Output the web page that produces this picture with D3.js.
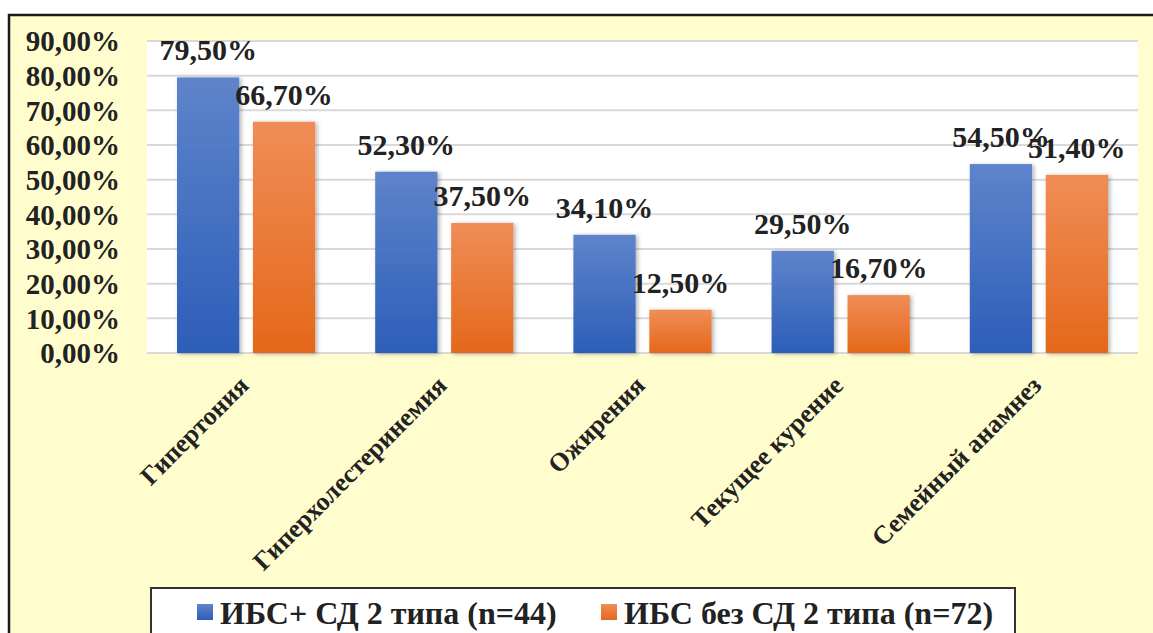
<!DOCTYPE html>
<html>
<head>
<meta charset="utf-8">
<script src="https://cdn.jsdelivr.net/npm/d3@7"></script>
<style>
  body { margin: 0; background: #fff; }
</style>
</head>
<body>
<div id="chart"></div>
<script>
"use strict";

var categories = ["Гипертония", "Гиперхолестеринемия", "Ожирения", "Текущее курение", "Семейный анамнез"];
var seriesNames = ["ИБС+ СД 2 типа (n=44)", "ИБС без СД 2 типа (n=72)"];
var withDiabetes = [79.5, 52.3, 34.1, 29.5, 54.5];
var withoutDiabetes = [66.7, 37.5, 12.5, 16.7, 51.4];
var yTicks = [0, 10, 20, 30, 40, 50, 60, 70, 80, 90];

var w = 1153;
var h = 633;
var plot = { left: 147, right: 1138, top: 41, bottom: 353 };

//Apply the serif font directly on each text node
function serif(sel, size) {
    sel.attr("font-family", "Liberation Serif")
        .attr("font-weight", "bold")
        .attr("font-size", size)
        .attr("fill", "#222");
}

var svg = d3.select("#chart")
    .append("svg")
    .attr("width", w)
    .attr("height", h);

var defs = svg.append("defs");

//Gradients for the two series
function gradient(id, top, bottom) {
    var g = defs.append("linearGradient")
        .attr("id", id)
        .attr("x1", 0).attr("y1", 0)
        .attr("x2", 0).attr("y2", 1);
    g.append("stop").attr("offset", "0%").attr("stop-color", top);
    g.append("stop").attr("offset", "100%").attr("stop-color", bottom);
}
gradient("gBlue", "#5E84CB", "#2D5EB8");
gradient("gOrange", "#F08D57", "#E4681A");

var shadow = defs.append("filter")
    .attr("id", "shadow")
    .attr("x", "-20%").attr("y", "-20%")
    .attr("width", "150%").attr("height", "150%");
shadow.append("feDropShadow")
    .attr("dx", 2).attr("dy", 1)
    .attr("stdDeviation", 2)
    .attr("flood-color", "#000")
    .attr("flood-opacity", 0.3);

//Chart background and border
svg.append("rect")
    .attr("x", 9).attr("y", 15)
    .attr("width", w + 10).attr("height", h + 10)
    .attr("fill", "#FFFDCD")
    .attr("stroke", "#1a1a1a")
    .attr("stroke-width", 2.5);

svg.append("rect")
    .attr("x", plot.left).attr("y", plot.top - 1)
    .attr("width", plot.right - plot.left)
    .attr("height", plot.bottom - plot.top + 1)
    .attr("fill", "#fff");

//Scales
var x0 = d3.scaleBand()
    .domain(categories)
    .range([plot.left, plot.right]);

var x1 = d3.scaleBand()
    .domain([0, 1])
    .range([30, x0.bandwidth() - 30])
    .paddingInner(0.18);

var y = d3.scaleLinear()
    .domain([0, 90])
    .range([plot.bottom, plot.top]);

//Gridlines
svg.append("g")
    .selectAll("line")
    .data(yTicks)
    .enter()
    .append("line")
    .attr("x1", plot.left)
    .attr("x2", plot.right)
    .attr("y1", function (d) { return y(d); })
    .attr("y2", function (d) { return y(d); })
    .attr("stroke", "#D9D9D9")
    .attr("stroke-width", 2);

//Y axis labels
var yAxis = d3.axisLeft(y)
    .tickValues(yTicks)
    .tickSize(0)
    .tickPadding(0)
    .tickFormat(function (d) { return d.toFixed(2).replace(".", ",") + "%"; });

var yg = svg.append("g")
    .attr("transform", "translate(120,0)")
    .call(yAxis)
    .attr("font-family", "Liberation Serif");
yg.select(".domain").remove();
yg.selectAll("text")
    .call(serif, 29)
    .attr("dy", "0.34em");

//Bars
var series = [withDiabetes, withoutDiabetes];
var fills = ["url(#gBlue)", "url(#gOrange)"];

series.forEach(function (values, s) {
    var g = svg.append("g");
    g.selectAll("rect")
        .data(values)
        .enter()
        .append("rect")
        .attr("x", function (d, i) { return x0(categories[i]) + x1(s); })
        .attr("y", function (d) { return y(d); })
        .attr("width", x1.bandwidth())
        .attr("height", function (d) { return y(0) - y(d); })
        .attr("fill", fills[s])
        .attr("filter", "url(#shadow)");

    g.selectAll("text")
        .data(values)
        .enter()
        .append("text")
        .attr("x", function (d, i) { return x0(categories[i]) + x1(s) + x1.bandwidth() / 2; })
        .attr("y", function (d) { return y(d) - 17; })
        .attr("text-anchor", "middle")
        .call(serif, 30)
        .text(function (d) { return d.toFixed(2).replace(".", ",") + "%"; });
});

//Category labels
svg.append("g")
    .selectAll("text")
    .data(categories)
    .enter()
    .append("text")
    .attr("transform", function (d) {
        return "translate(" + (x0(d) + x0.bandwidth() / 2 + 4) + ",387) rotate(-45)";
    })
    .attr("text-anchor", "end")
    .call(serif, 26)
    .text(function (d) { return d; });

//Legend
var legend = svg.append("g");
legend.append("rect")
    .attr("x", 151).attr("y", 588)
    .attr("width", 864).attr("height", 60)
    .attr("fill", "#fff")
    .attr("stroke", "#333")
    .attr("stroke-width", 2);

var legendX = [197, 601];
var legendColors = ["url(#gBlue)", "url(#gOrange)"];
seriesNames.forEach(function (name, i) {
    legend.append("rect")
        .attr("x", legendX[i]).attr("y", 604)
        .attr("width", 16).attr("height", 16)
        .attr("fill", legendColors[i]);
    legend.append("text")
        .attr("x", legendX[i] + 23)
        .attr("y", 624)
        .call(serif, 32)
        .text(name);
});
</script>
</body>
</html>
